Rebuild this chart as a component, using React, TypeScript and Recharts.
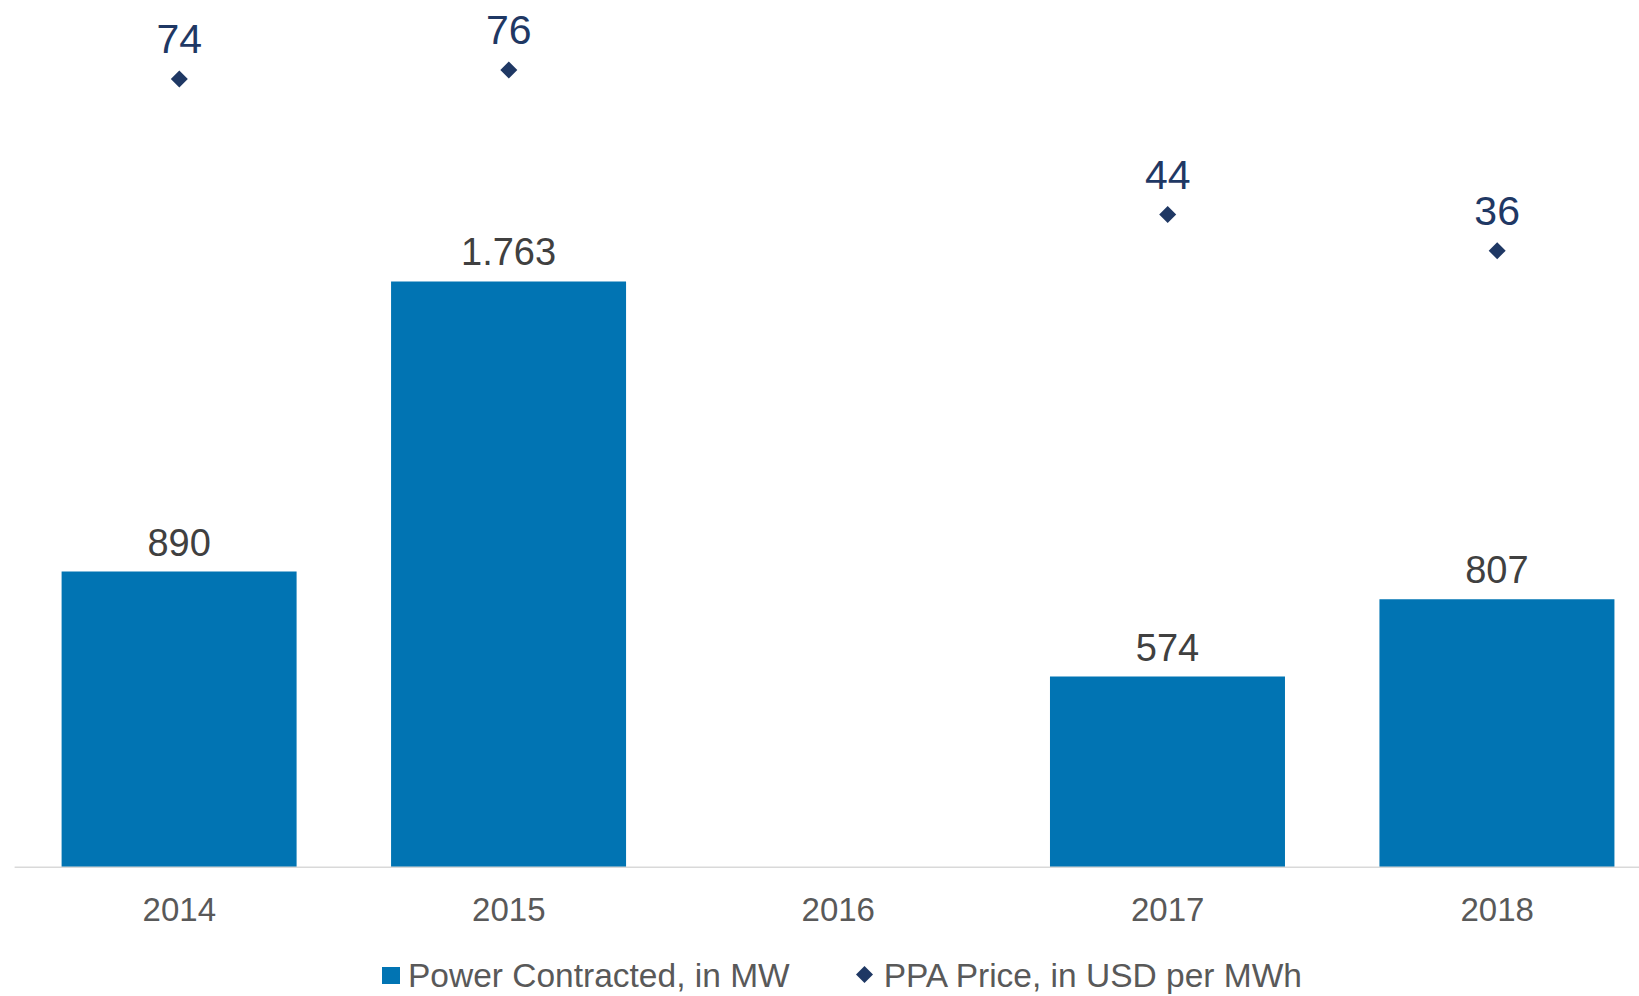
import React from 'react';
import { ComposedChart, Bar, Line, XAxis, YAxis, LabelList, Legend } from 'recharts';

// chart values
const years = ['2014', '2015', '2016', '2017', '2018'];
const powerMW: (number | null)[] = [890, 1763, null, 574, 807];
const priceUSD: (number | null)[] = [74, 76, null, 44, 36];

const BAR_COLOR = '#0174b3';
const PRICE_COLOR = '#1f3864';
const TEXT_GRAY = '#595959';

const data = years.map((year, i) => ({
  year,
  power: powerMW[i],
  price: priceUSD[i],
}));

// 1763 -> "1.763"
const formatThousands = (v: any) =>
  v == null ? '' : String(v).replace(/\B(?=(\d{3})+(?!\d))/g, '.');

const Diamond = ({ cx, cy, r, fill }: { cx: number; cy: number; r: number; fill: string }) => (
  <polygon
    points={`${cx},${cy - r} ${cx + r},${cy} ${cx},${cy + r} ${cx - r},${cy}`}
    fill={fill}
  />
);

const renderDot = (props: any) => {
  const { cx, cy, key, index } = props;
  if (cx == null || cy == null || isNaN(cy)) return <g key={key ?? `dot-${index}`} />;
  return (
    <g key={key ?? `dot-${index}`}>
      <Diamond cx={cx} cy={cy} r={8.5} fill={PRICE_COLOR} />
    </g>
  );
};

const LegendContent = () => (
  <div
    style={{
      display: 'flex',
      alignItems: 'center',
      fontFamily: '"Liberation Sans", Arial, sans-serif',
      fontSize: 33.5,
      lineHeight: '33px',
      color: TEXT_GRAY,
      whiteSpace: 'nowrap',
    }}
  >
    <span style={{ display: 'inline-block', width: 18, height: 17, background: BAR_COLOR, marginRight: 8 }} />
    <span>Power Contracted, in MW</span>
    <svg width={17} height={17} style={{ marginLeft: 66, marginRight: 11, marginTop: -3 }}>
      <Diamond cx={8.5} cy={8.5} r={8.5} fill={PRICE_COLOR} />
    </svg>
    <span>PPA Price, in USD per MWh</span>
  </div>
);

export default function App() {
  return (
    <div
      style={{
        position: 'fixed',
        left: 0,
        top: 0,
        width: 1639,
        height: 996,
        overflow: 'hidden',
        background: '#fff',
      }}
    >
      <ComposedChart
        width={1670}
        height={996}
        data={data}
        margin={{ top: 10, right: 8.1, bottom: 68.7, left: 14.6 }}
        style={{ fontFamily: '"Liberation Sans", Arial, sans-serif' }}
      >
        <XAxis
          dataKey="year"
          height={60}
          axisLine={{ stroke: '#d9d9d9', strokeWidth: 1.5 }}
          tickLine={false}
          tickSize={6}
          tickMargin={24}
          tick={{ fill: TEXT_GRAY, fontSize: 33 }}
          interval={0}
        />
        <YAxis yAxisId="left" hide domain={[0, 2580]} allowDataOverflow />
        <YAxis yAxisId="right" orientation="right" hide domain={[-100.4, 89.25]} allowDataOverflow />
        <Bar yAxisId="left" dataKey="power" fill={BAR_COLOR} barSize={235} isAnimationActive={false}>
          <LabelList
            dataKey="power"
            position="top"
            offset={16}
            formatter={formatThousands}
            style={{ fill: '#404040', fontSize: 38 }}
          />
        </Bar>
        <Line
          yAxisId="right"
          dataKey="price"
          stroke="none"
          dot={renderDot}
          activeDot={false}
          isAnimationActive={false}
        >
          <LabelList
            dataKey="price"
            position="top"
            offset={26}
            style={{ fill: PRICE_COLOR, fontSize: 41 }}
          />
        </Line>
        <Legend
          verticalAlign="middle"
          align="center"
          layout="horizontal"
          content={<LegendContent />}
          wrapperStyle={{ top: 959, left: 382, width: 'auto', height: 'auto' }}
        />
      </ComposedChart>
    </div>
  );
}
